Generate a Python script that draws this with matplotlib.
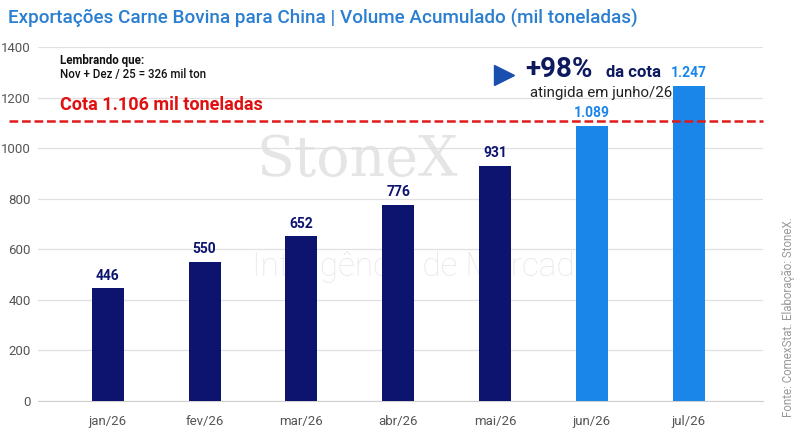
import matplotlib
matplotlib.use("Agg")
import matplotlib.pyplot as plt

categories = ["jan/26", "fev/26", "mar/26", "abr/26", "mai/26", "jun/26", "jul/26"]
values = [446, 550, 652, 776, 931, 1089, 1247]
value_labels = ["446", "550", "652", "776", "931", "1.089", "1.247"]
highlight = [False, False, False, False, False, True, True]
quota = 1106
yticks = [0, 200, 400, 600, 800, 1000, 1200, 1400]

dark = "#0d1470"
light = "#1a86ea"

plt.rcParams['font.family'] = ['Roboto', 'DejaVu Sans']

fig = plt.figure(figsize=(8, 4.44), dpi=100)
ax = fig.add_axes([0.0475, 0.0968, 0.9065, 0.7973])

x = list(range(len(categories)))
colors = [light if h else dark for h in highlight]
ax.bar(x, values, width=0.33, color=colors, zorder=3)

for xi, v, lab, h in zip(x, values, value_labels, highlight):
    ax.text(xi, v + 22, lab, ha="center", va="bottom", fontsize=10, fontweight="bold",
            color=light if h else dark, zorder=5)

ax.axhline(quota, color="#e01b1b", linestyle=(0, (3.5, 1.5)), linewidth=1.8, zorder=4,
           xmin=-0.04, clip_on=False)

ax.set_xlim(-0.72, 6.77)
ax.set_ylim(0, 1400)
ax.set_yticks(yticks)
ax.set_xticks(x)
ax.set_xticklabels(categories)
ax.tick_params(axis="both", length=0, colors="#555555", labelsize=9.5)
ax.tick_params(axis="x", pad=10)
ax.tick_params(axis="y", pad=5)
ax.grid(axis="y", color="#e0e0e0", linewidth=0.9, zorder=0)
for s in ["top", "right", "left"]:
    ax.spines[s].set_visible(False)
ax.spines["bottom"].set_color("#d0d0d0")

# Title
fig.text(0.01, 0.958, "Exportações Carne Bovina para China | Volume Acumulado (mil toneladas)",
         fontsize=13.6, fontweight="medium", color="#2a7fd0", ha="left", va="center")

# Notes
ax.text(0.03, 0.963, "Lembrando que:", transform=ax.transAxes, fontsize=8.3,
        fontweight="bold", color="#111111", va="center")
ax.text(0.03, 0.921, "Nov + Dez / 25 = 326 mil ton", transform=ax.transAxes, fontsize=8.3,
        fontweight="medium", color="#111111", va="center")
ax.text(0.03, 0.836, "Cota 1.106 mil toneladas", transform=ax.transAxes, fontsize=13,
        fontweight="bold", color="#e01010", va="center")

# +98% annotation
ax.plot([0.642], [0.921], transform=ax.transAxes, marker=">", markersize=15,
        color="#1a4fb0", zorder=6, clip_on=False)
ax.text(0.672, 0.916, "+98%", transform=ax.transAxes, fontsize=20, fontweight="bold",
        color="#0d1a5e", va="baseline")
ax.text(0.783, 0.916, "da cota", transform=ax.transAxes, fontsize=12, fontweight="bold",
        color="#0d1a5e", va="baseline")
ax.text(0.678, 0.87, "atingida em junho/26", transform=ax.transAxes, fontsize=10.8,
        color="#222222", va="center")

# Watermark (behind bars)
ax.text(0.44, 0.68, "StoneX", transform=ax.transAxes, fontsize=40, family="DejaVu Serif",
        color="#d4d4d4", alpha=0.6, ha="center", va="center", zorder=1)
ax.text(0.53, 0.38, "Inteligência de Mercado", transform=ax.transAxes, fontsize=24,
        color="#d8d8d8", alpha=0.6, ha="center", va="center", fontweight="light", zorder=1)

# Source
fig.text(0.985, 0.285, "Fonte: ComexStat. Elaboração: StoneX.", rotation=90, fontsize=8.3,
         color="#999999", ha="center", va="center")

fig.savefig("out.png", dpi=100)
